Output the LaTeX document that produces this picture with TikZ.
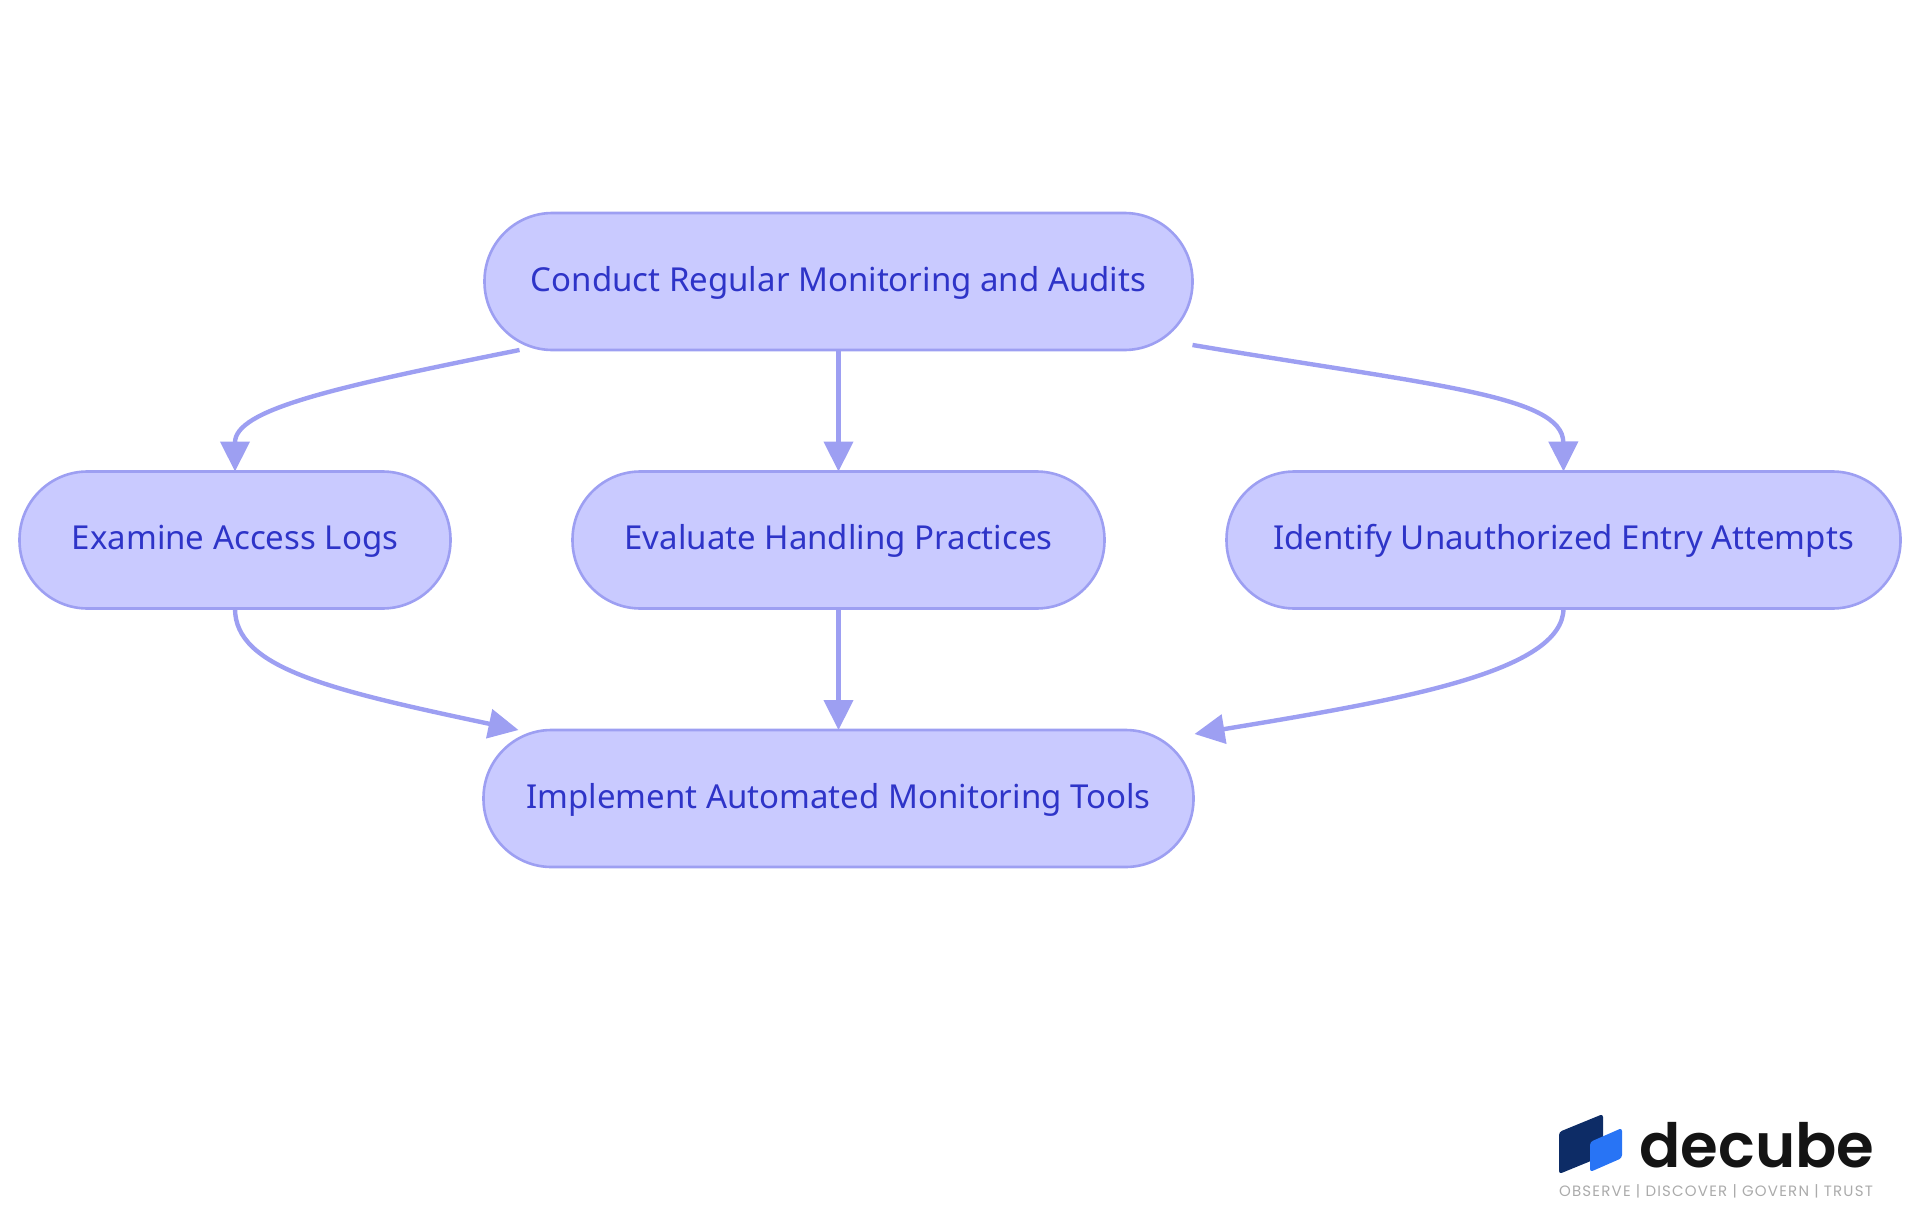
\documentclass[tikz,border=0pt]{standalone}
\usepackage{fontspec}
\setmainfont{Noto Sans}
\newfontfamily\logofont{Poppins SemiBold}
\newfontfamily\tagfont[LetterSpace=8]{Poppins}
\usetikzlibrary{arrows.meta}
\definecolor{pillFill}{HTML}{C9CAFF}
\definecolor{pillLine}{HTML}{9D9FF2}
\definecolor{pillText}{HTML}{2E34C8}
\definecolor{logoDark}{HTML}{0D2C66}
\definecolor{logoBlue}{HTML}{2874F5}
\definecolor{logoGrey}{HTML}{ABABAB}
\tikzstyle{baseNode}=[draw=pillLine,fill=pillFill,line width=2.6pt,rounded corners=68pt,outer sep=0pt,inner sep=0pt,minimum height=137pt,text height=25.5pt,text depth=6pt,text=pillText,font=\fontsize{33}{40}\selectfont]
\tikzstyle{transition}=[draw=pillLine,line width=4.4pt,-{Triangle[length=30pt,width=29pt]}]

\begin{document}
\begin{tikzpicture}[x=1pt,y=-1pt]

    \useasboundingbox (0,0) rectangle (1920,1215);

    \node[baseNode,minimum width=708pt] (audit) at (838.5, 281.5) {Conduct Regular Monitoring and Audits};

    \node[baseNode,minimum width=431pt] (logs) at (235, 540) {Examine Access Logs};
    \node[baseNode,minimum width=532pt] (handling) at (838.5, 540) {Evaluate Handling Practices};
    \node[baseNode,minimum width=674pt] (entry) at (1563.5, 540) {Identify Unauthorized Entry Attempts};

    \node[baseNode,minimum width=710pt] (tools) at (838.5, 798.5) {Implement Automated Monitoring Tools};

    \draw[transition] ([xshift=35pt]audit.south west) .. controls (330,388) and (235,410) .. (logs.north);
    \draw[transition] (audit.south) to (handling.north);
    \draw[transition] ([yshift=5pt]audit.south east) .. controls (1430,385) and (1563,395) .. (entry.north);

    \draw[transition] (logs.south) .. controls (235,668) and (330,690) .. ([xshift=35pt]tools.north west);
    \draw[transition] (handling.south) to (tools.north);
    \draw[transition] (entry.south) .. controls (1563,672) and (1400,700) .. ([xshift=1pt,yshift=-4pt]tools.north east);

    \fill[logoDark,rounded corners=3pt] (1559,1132) -- (1603,1114) -- (1603,1156) -- (1559,1174) -- cycle;
    \fill[logoBlue,rounded corners=3pt] (1590,1142) -- (1622,1128) -- (1622,1158) -- (1590,1172) -- cycle;

    \node[text=black!92,inner sep=0pt,anchor=base,font=\logofont\fontsize{61}{61}\selectfont] (brand) at (1757, 1167) {decube};
    \node[text=logoGrey,inner sep=0pt,font=\tagfont\fontsize{15}{17}\selectfont] (tagline) at (1716, 1191) {OBSERVE | DISCOVER | GOVERN | TRUST};

\end{tikzpicture}
\end{document}
